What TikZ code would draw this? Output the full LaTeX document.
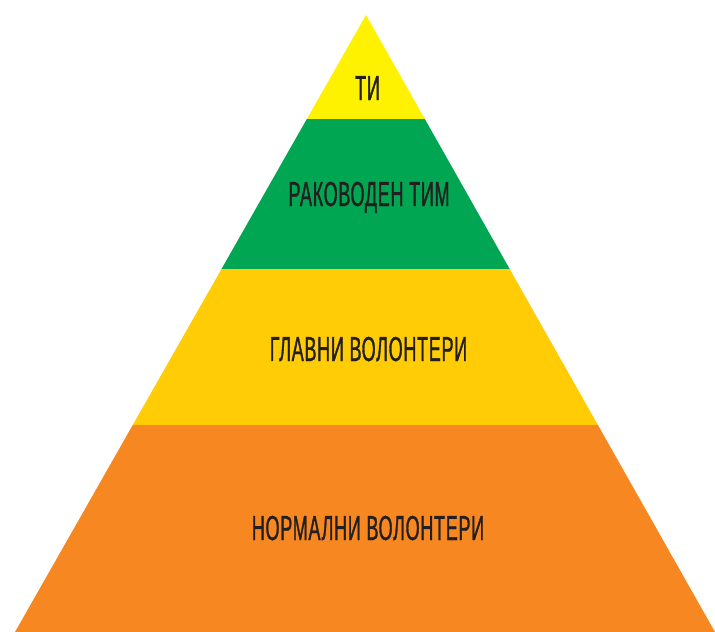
\documentclass[tikz,border=0pt]{standalone}
\usepackage{fontspec}
\usetikzlibrary{calc}
\newfontfamily\pyrfont[FakeStretch=0.52,FakeBold=0.9,LetterSpace=2]{Liberation Sans}
\definecolor{topyellow}{RGB}{255,242,0}
\definecolor{teamgreen}{RGB}{0,166,81}
\definecolor{mainyellow}{RGB}{255,204,5}
\definecolor{baseorange}{RGB}{247,135,32}
\definecolor{labelgray}{RGB}{35,31,32}

\tikzset{every picture/.style={line width=0.75pt}}
\tikzset{layerlabel/.style={anchor=base,inner sep=0pt,text=labelgray,font=\pyrfont\fontsize{26}{26}\selectfont}}

\begin{document}
\begin{tikzpicture}[x=0.75pt,y=0.75pt,yscale=-1,xscale=1]
\useasboundingbox (0,0) rectangle (715,632);

% Corners
\coordinate (apex) at (366,15);
\coordinate (baseL) at (15,632);
\coordinate (baseR) at (715,632);
% Layer borders
\coordinate (l1) at ($(apex)!0.1686!(baseL)$);
\coordinate (r1) at ($(apex)!0.1686!(baseR)$);
\coordinate (l2) at ($(apex)!0.4117!(baseL)$);
\coordinate (r2) at ($(apex)!0.4117!(baseR)$);
\coordinate (l3) at ($(apex)!0.6645!(baseL)$);
\coordinate (r3) at ($(apex)!0.6645!(baseR)$);

% Layers
\fill [topyellow] (apex) -- (r1) -- (l1) -- cycle;
\fill [teamgreen] (l1) -- (r1) -- (r2) -- (l2) -- cycle;
\fill [mainyellow] (l2) -- (r2) -- (r3) -- (l3) -- cycle;
\fill [baseorange] (l3) -- (r3) -- (baseR) -- (baseL) -- cycle;

% Labels
\node [layerlabel] (you) at (367.5,100) {ТИ};
\node [layerlabel] (team) at (369,206) {РАКОВОДЕН ТИМ};
\node [layerlabel] (main) at (368.5,361) {ГЛАВНИ ВОЛОНТЕРИ};
\node [layerlabel] (normal) at (368,540) {НОРМАЛНИ ВОЛОНТЕРИ};

\end{tikzpicture}
\end{document}
